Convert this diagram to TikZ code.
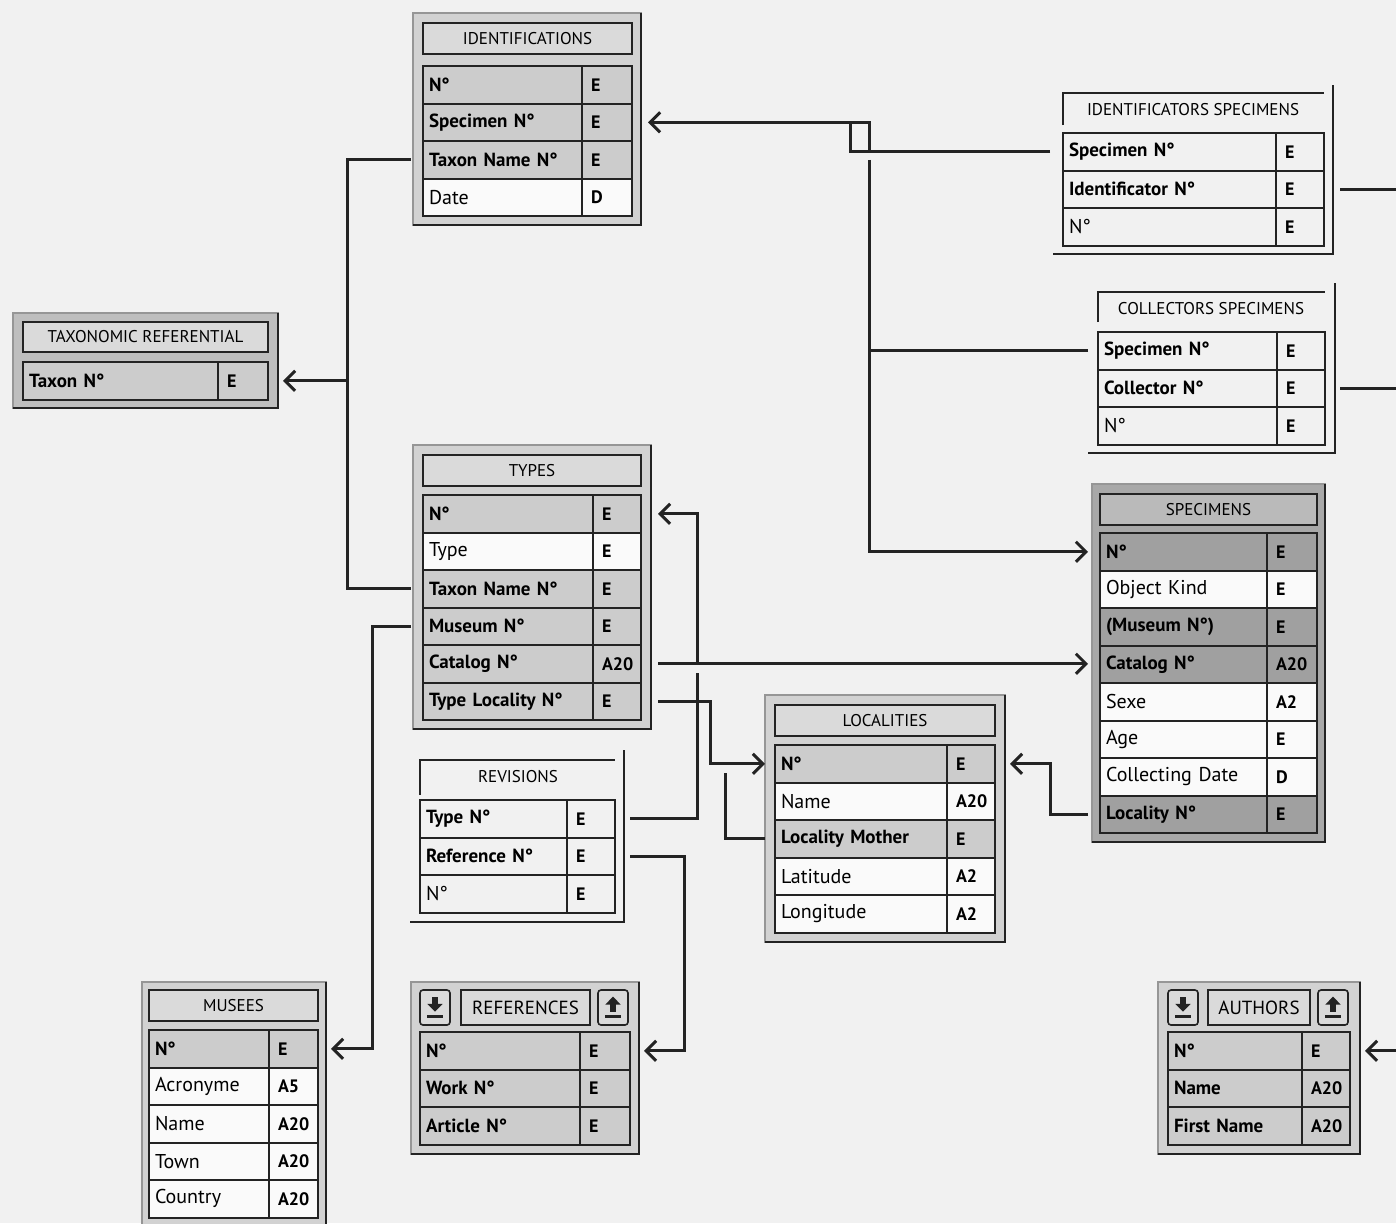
\documentclass[tikz,border=0pt]{standalone}
\usepackage{fontspec}
\setmainfont{PT Sans}
\usepackage{xcolor}
\usepackage{tikz}
\usetikzlibrary{arrows.meta, positioning, calc}
\definecolor{mybg}{RGB}{241,241,241}
\definecolor{mydark}{RGB}{35,35,35}
\definecolor{mygrid}{RGB}{150,150,150}
\definecolor{mypanel}{RGB}{210,210,210}
\definecolor{mymidpanel}{RGB}{190,190,190}
\definecolor{mydarkpanel}{RGB}{168,168,168}
\definecolor{mytitle}{RGB}{218,218,218}
\definecolor{mydarktitle}{RGB}{186,186,186}
\definecolor{mykey}{RGB}{204,204,204}
\definecolor{mydarkkey}{RGB}{160,160,160}
\definecolor{mywhite}{RGB}{250,250,250}
\tikzset{
  panel/.style={draw=mygrid, fill=mypanel, line width=0.6pt},
  midpanel/.style={draw=mygrid, fill=mymidpanel, line width=0.6pt},
  darkpanel/.style={draw=mygrid, fill=mydarkpanel, line width=0.6pt},
  paneledge/.style={draw=mydark, line width=1pt},
  openedge/.style={draw=mydark, line width=0.9pt},
  titlebox/.style={rectangle, draw=mydark, fill=mytitle, anchor=north west,
    minimum width=#1, minimum height=15.5pt, inner sep=0pt, outer sep=0pt,
    font=\fontsize{8.5}{10}\selectfont, line width=0.8pt},
  titletext/.style={inner sep=0pt, font=\fontsize{8.5}{10}\selectfont},
  btnbox/.style={rectangle, draw=mydark, fill=mytitle, anchor=north west,
    minimum width=15pt, minimum height=17.5pt, inner sep=0pt, outer sep=0pt,
    rounded corners=1.5pt, line width=0.8pt},
  keycell/.style={rectangle, draw=mydark, fill=mykey, text width=#1,
    align=left, minimum height=18.75pt, inner xsep=3pt, inner ysep=0pt,
    outer sep=0pt, font=\fontsize{9.5}{11}\selectfont\bfseries, line width=1pt},
  plaincell/.style={keycell=#1, fill=mywhite, font=\fontsize{10}{11}\selectfont},
  darkcell/.style={keycell=#1, fill=mydarkkey},
  opencell/.style={keycell=#1, fill=mybg},
  openplain/.style={plaincell=#1, fill=mybg},
  typecell/.style={rectangle, draw=mydark, fill=mykey, text width=#1,
    align=left, minimum height=18.75pt, inner xsep=4.5pt, inner ysep=0pt,
    outer sep=0pt, font=\fontsize{9}{11}\selectfont\bfseries, line width=1pt},
  plaintype/.style={typecell=#1, fill=mywhite},
  darktype/.style={typecell=#1, fill=mydarkkey},
  opentype/.style={typecell=#1, fill=mybg},
  arrow/.style={-{Straight Barb[length=5pt, width=10pt]}, line width=1.5pt, color=mydark},
  line/.style={line width=1.5pt, color=mydark},
  downicon/.pic={
    \fill[mydark] (-1.3pt,5.5pt) rectangle (1.3pt,1.5pt);
    \fill[mydark] (-3.8pt,1.8pt) -- (3.8pt,1.8pt) -- (0pt,-2pt) -- cycle;
    \fill[mydark] (-4.2pt,-3.8pt) rectangle (4.2pt,-5pt);
  },
  upicon/.pic={
    \fill[mydark] (-3.8pt,1.5pt) -- (3.8pt,1.5pt) -- (0pt,5.5pt) -- cycle;
    \fill[mydark] (-1.3pt,1.8pt) rectangle (1.3pt,-2pt);
    \fill[mydark] (-4.2pt,-3.8pt) rectangle (4.2pt,-5pt);
  }
}

\begin{document}
\begin{tikzpicture}[x=0.5pt, y=-0.5pt]
  \fill[mybg] (0,0) rectangle (1396,1223);
  \useasboundingbox (0,0) rectangle (1396,1223);

  % Identifications
  \draw[panel] (413,13) rectangle (641,225);
  \draw[paneledge] (413,225) -- (641,225) -- (641,13);
  \node[titlebox=104.5pt] (idf) at (423,23) {IDENTIFICATIONS};
  \node[keycell=73.5pt, anchor=north west] (idf-1) at (423,66) {N°};
  \node[typecell=16pt, right=0pt of idf-1] (idf-1t) {E};
  \node[keycell=73.5pt, below=0pt of idf-1] (idf-2) {Specimen N°};
  \node[typecell=16pt, right=0pt of idf-2] (idf-2t) {E};
  \node[keycell=73.5pt, below=0pt of idf-2] (idf-3) {Taxon Name N°};
  \node[typecell=16pt, right=0pt of idf-3] (idf-3t) {E};
  \node[plaincell=73.5pt, below=0pt of idf-3] (idf-4) {Date};
  \node[plaintype=16pt, right=0pt of idf-4] (idf-4t) {D};

  % Taxonomic referential
  \draw[midpanel] (13,313) rectangle (278,408);
  \draw[paneledge] (13,408) -- (278,408) -- (278,313);
  \node[titlebox=122.5pt, minimum height=15pt] (tax) at (23,322) {TAXONOMIC REFERENTIAL};
  \node[keycell=91.5pt, anchor=north west] (tax-1) at (23,362) {Taxon N°};
  \node[typecell=16pt, right=0pt of tax-1] (tax-1t) {E};

  % Identificators specimens
  \draw[openedge] (1063,125) -- (1063,93) -- (1324,93);
  \draw[openedge] (1053,254) -- (1333,254) -- (1333,85);
  \node[titletext] (ids) at (1193,110) {IDENTIFICATORS SPECIMENS};
  \node[opencell=100.5pt, anchor=north west] (ids-1) at (1063,133) {Specimen N°};
  \node[opentype=15pt, right=0pt of ids-1] (ids-1t) {E};
  \node[opencell=100.5pt, below=0pt of ids-1] (ids-2) {Identificator N°};
  \node[opentype=15pt, right=0pt of ids-2] (ids-2t) {E};
  \node[openplain=100.5pt, below=0pt of ids-2] (ids-3) {N°};
  \node[opentype=15pt, right=0pt of ids-3] (ids-3t) {E};

  % Collectors specimens
  \draw[openedge] (1098,322) -- (1098,292) -- (1325,292);
  \draw[openedge] (1088,453) -- (1335,453) -- (1335,283);
  \node[titletext] (col) at (1211,309) {COLLECTORS SPECIMENS};
  \node[opencell=83.5pt, anchor=north west] (col-1) at (1098,332) {Specimen N°};
  \node[opentype=15pt, right=0pt of col-1] (col-1t) {E};
  \node[opencell=83.5pt, below=0pt of col-1] (col-2) {Collector N°};
  \node[opentype=15pt, right=0pt of col-2] (col-2t) {E};
  \node[openplain=83.5pt, below=0pt of col-2] (col-3) {N°};
  \node[opentype=15pt, right=0pt of col-3] (col-3t) {E};

  % Types
  \draw[panel] (413,445) rectangle (651,729);
  \draw[paneledge] (413,729) -- (651,729) -- (651,445);
  \node[titlebox=109pt] (typ) at (423,455) {TYPES};
  \node[keycell=79pt, anchor=north west] (typ-1) at (423,495) {N°};
  \node[typecell=15pt, right=0pt of typ-1] (typ-1t) {E};
  \node[plaincell=79pt, below=0pt of typ-1] (typ-2) {Type};
  \node[plaintype=15pt, right=0pt of typ-2] (typ-2t) {E};
  \node[keycell=79pt, below=0pt of typ-2] (typ-3) {Taxon Name N°};
  \node[typecell=15pt, right=0pt of typ-3] (typ-3t) {E};
  \node[keycell=79pt, below=0pt of typ-3] (typ-4) {Museum N°};
  \node[typecell=15pt, right=0pt of typ-4] (typ-4t) {E};
  \node[keycell=79pt, below=0pt of typ-4] (typ-5) {Catalog N°};
  \node[typecell=15pt, right=0pt of typ-5] (typ-5t) {A20};
  \node[keycell=79pt, below=0pt of typ-5] (typ-6) {Type Locality N°};
  \node[typecell=15pt, right=0pt of typ-6] (typ-6t) {E};

  % Specimens
  \draw[darkpanel] (1092,484) rectangle (1325,842);
  \draw[paneledge] (1092,842) -- (1325,842) -- (1325,484);
  \node[titlebox=108.5pt, fill=mydarktitle] (spc) at (1100,494) {SPECIMENS};
  \node[darkcell=77.5pt, anchor=north west] (spc-1) at (1100,533) {N°};
  \node[darktype=16pt, right=0pt of spc-1] (spc-1t) {E};
  \node[plaincell=77.5pt, below=0pt of spc-1] (spc-2) {Object Kind};
  \node[plaintype=16pt, right=0pt of spc-2] (spc-2t) {E};
  \node[darkcell=77.5pt, below=0pt of spc-2] (spc-3) {(Museum N°)};
  \node[darktype=16pt, right=0pt of spc-3] (spc-3t) {E};
  \node[darkcell=77.5pt, below=0pt of spc-3] (spc-4) {Catalog N°};
  \node[darktype=16pt, right=0pt of spc-4] (spc-4t) {A20};
  \node[plaincell=77.5pt, below=0pt of spc-4] (spc-5) {Sexe};
  \node[plaintype=16pt, right=0pt of spc-5] (spc-5t) {A2};
  \node[plaincell=77.5pt, below=0pt of spc-5] (spc-6) {Age};
  \node[plaintype=16pt, right=0pt of spc-6] (spc-6t) {E};
  \node[plaincell=77.5pt, below=0pt of spc-6] (spc-7) {Collecting Date};
  \node[plaintype=16pt, right=0pt of spc-7] (spc-7t) {D};
  \node[darkcell=77.5pt, below=0pt of spc-7] (spc-8) {Locality N°};
  \node[darktype=16pt, right=0pt of spc-8] (spc-8t) {E};

  % Localities
  \draw[panel] (765,695) rectangle (1005,942);
  \draw[paneledge] (765,942) -- (1005,942) -- (1005,695);
  \node[titlebox=110pt] (loc) at (775,705) {LOCALITIES};
  \node[keycell=80pt, anchor=north west] (loc-1) at (775,745) {N°};
  \node[typecell=15pt, right=0pt of loc-1] (loc-1t) {E};
  \node[plaincell=80pt, below=0pt of loc-1] (loc-2) {Name};
  \node[plaintype=15pt, right=0pt of loc-2] (loc-2t) {A20};
  \node[keycell=80pt, below=0pt of loc-2] (loc-3) {Locality Mother};
  \node[typecell=15pt, right=0pt of loc-3] (loc-3t) {E};
  \node[plaincell=80pt, below=0pt of loc-3] (loc-4) {Latitude};
  \node[plaintype=15pt, right=0pt of loc-4] (loc-4t) {A2};
  \node[plaincell=80pt, below=0pt of loc-4] (loc-5) {Longitude};
  \node[plaintype=15pt, right=0pt of loc-5] (loc-5t) {A2};

  % Revisions
  \draw[openedge] (420,795) -- (420,760) -- (615,760);
  \draw[openedge] (410,922) -- (624,922) -- (624,750);
  \node[titletext] (rev) at (518,777) {REVISIONS};
  \node[opencell=67.5pt, anchor=north west] (rev-1) at (420,800) {Type N°};
  \node[opentype=15pt, right=0pt of rev-1] (rev-1t) {E};
  \node[opencell=67.5pt, below=0pt of rev-1] (rev-2) {Reference N°};
  \node[opentype=15pt, right=0pt of rev-2] (rev-2t) {E};
  \node[openplain=67.5pt, below=0pt of rev-2] (rev-3) {N°};
  \node[opentype=15pt, right=0pt of rev-3] (rev-3t) {E};

  % Musees
  \draw[panel] (142,982) rectangle (326,1232);
  \draw[paneledge] (326,1232) -- (326,982);
  \node[titlebox=84.5pt] (mus) at (149,990) {MUSEES};
  \node[keycell=54pt, anchor=north west] (mus-1) at (149,1030) {N°};
  \node[typecell=15.5pt, right=0pt of mus-1] (mus-1t) {E};
  \node[plaincell=54pt, below=0pt of mus-1] (mus-2) {Acronyme};
  \node[plaintype=15.5pt, right=0pt of mus-2] (mus-2t) {A5};
  \node[plaincell=54pt, below=0pt of mus-2] (mus-3) {Name};
  \node[plaintype=15.5pt, right=0pt of mus-3] (mus-3t) {A20};
  \node[plaincell=54pt, below=0pt of mus-3] (mus-4) {Town};
  \node[plaintype=15.5pt, right=0pt of mus-4] (mus-4t) {A20};
  \node[plaincell=54pt, below=0pt of mus-4] (mus-5) {Country};
  \node[plaintype=15.5pt, right=0pt of mus-5] (mus-5t) {A20};

  % References
  \draw[panel] (411,982) rectangle (639,1154);
  \draw[paneledge] (411,1154) -- (639,1154) -- (639,982);
  \node[btnbox] (ref-dn) at (420,990) {};
  \node[titlebox=64.5pt, minimum height=17.5pt, font=\fontsize{9.5}{11}\selectfont] (ref) at (461,990) {REFERENCES};
  \node[btnbox] (ref-up) at (598,990) {};
  \pic at (ref-dn) {downicon};
  \pic at (ref-up) {upicon};
  \node[keycell=74pt, anchor=north west] (ref-1) at (420,1032) {N°};
  \node[typecell=16pt, right=0pt of ref-1] (ref-1t) {E};
  \node[keycell=74pt, below=0pt of ref-1] (ref-2) {Work N°};
  \node[typecell=16pt, right=0pt of ref-2] (ref-2t) {E};
  \node[keycell=74pt, below=0pt of ref-2] (ref-3) {Article N°};
  \node[typecell=16pt, right=0pt of ref-3] (ref-3t) {E};

  % Authors
  \draw[panel] (1158,982) rectangle (1360,1154);
  \draw[paneledge] (1158,1154) -- (1360,1154) -- (1360,982);
  \node[btnbox] (aut-dn) at (1168,990) {};
  \node[titlebox=51pt, minimum height=17.5pt, font=\fontsize{9.5}{11}\selectfont] (aut) at (1208,990) {AUTHORS};
  \node[btnbox] (aut-up) at (1318,990) {};
  \pic at (aut-dn) {downicon};
  \pic at (aut-up) {upicon};
  \node[keycell=61pt, anchor=north west] (aut-1) at (1168,1032) {N°};
  \node[typecell=15pt, right=0pt of aut-1] (aut-1t) {E};
  \node[keycell=61pt, below=0pt of aut-1] (aut-2) {Name};
  \node[typecell=15pt, right=0pt of aut-2] (aut-2t) {A20};
  \node[keycell=61pt, below=0pt of aut-2] (aut-3) {First Name};
  \node[typecell=15pt, right=0pt of aut-3] (aut-3t) {A20};

  % Links
  \coordinate (rim) at (1396,0);
  \coordinate (idjoin) at ([xshift=118.5pt]idf-2t.east);
  \coordinate (idcross) at (idjoin |- ids-1.west);
  \coordinate (taxjoin) at ([xshift=39.5pt]tax-1t.east);
  \coordinate (revup) at ([xshift=41pt]rev-1t.east);
  \coordinate (revcross) at (revup |- typ-5t.east);
  \coordinate (catend) at ([xshift=-6pt]spc-4.west);

  \draw[arrow] ([xshift=-6.5pt]ids-1.west) -- ++(-200,0) |- ([xshift=8pt]idf-2t.east);
  \draw[line] ([xshift=-9.5pt]idjoin) -- (idjoin) -- (idcross);
  \draw[arrow] ([yshift=-4pt]idcross) |- ([xshift=-6pt]spc-1.west);
  \draw[line] ([xshift=-5pt]col-1.west) -- (col-1.west -| idjoin);
  \draw[line] ([xshift=8pt]ids-2t.east) -- (ids-2t.east -| rim);
  \draw[line] ([xshift=7.5pt]col-2t.east) -- (col-2t.east -| rim);
  \draw[arrow] (aut-1t.east -| rim) -- ([xshift=7.5pt]aut-1t.east);

  \draw[line] ([xshift=-6pt]idf-3.west) -| (taxjoin) |- ([xshift=-6pt]typ-3.west);
  \draw[arrow] (taxjoin) -- ([xshift=7.5pt]tax-1t.east);
  \draw[arrow] ([xshift=-6pt]typ-4.west) -- ++(-39,0) |- ([xshift=6.5pt]mus-1t.east);
  \draw[arrow] ([xshift=8.5pt]typ-5t.east) -- (typ-5t.east -| catend);

  \draw[line] ([xshift=7.5pt]rev-1t.east) -| ([yshift=-4.5pt]revcross);
  \draw[arrow] (revcross) |- ([xshift=8.5pt]typ-1t.east);
  \draw[arrow] ([xshift=8.5pt]typ-6t.east) -- ++(52,0) |- ([xshift=-5pt]loc-1.west);
  \draw[line] ([xshift=-5pt]loc-3.west) -- ++(-40,0) -- ++(0,-66);
  \draw[arrow] ([xshift=-6pt]spc-8.west) -- ++(-38,0) |- ([xshift=7.5pt]loc-1t.east);
  \draw[arrow] ([xshift=7.5pt]rev-2t.east) -- ++(54,0) |- ([xshift=7pt]ref-1t.east);
\end{tikzpicture}
\end{document}
